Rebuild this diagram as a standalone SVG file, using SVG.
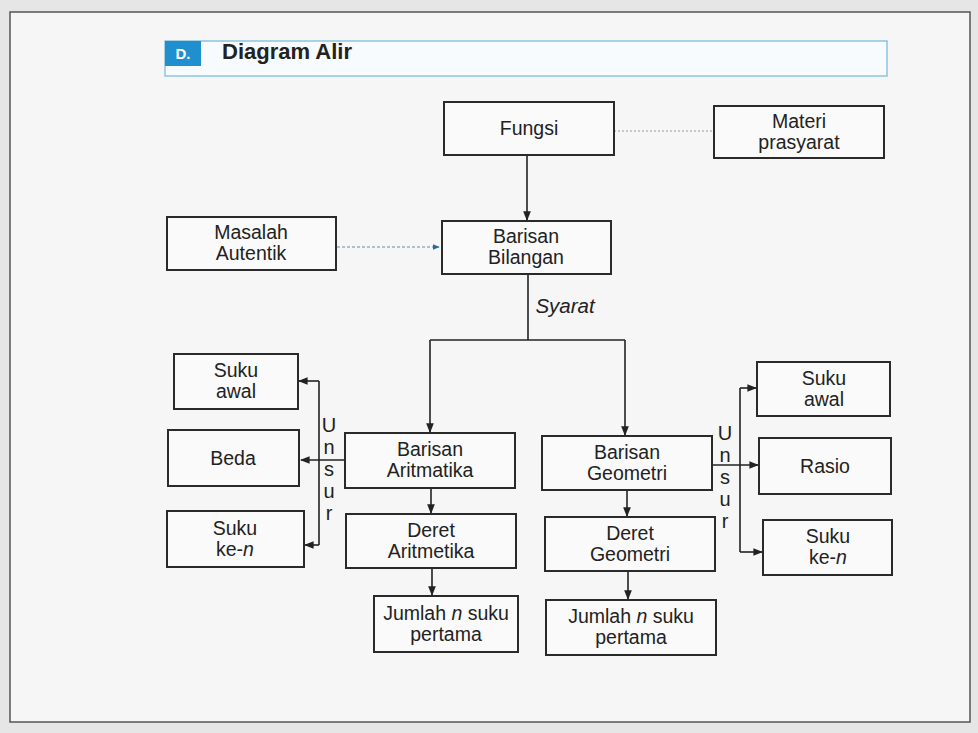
<svg xmlns="http://www.w3.org/2000/svg" width="978" height="733" viewBox="0 0 978 733">
<defs>
<style>
.box{fill:#fafafa;stroke:#2a2a2a;stroke-width:2}
.t{font-family:"Liberation Sans",Arial,sans-serif;font-size:19.5px;fill:#222;text-anchor:middle}
.ln{fill:none;stroke:#222;stroke-width:1.6}
.u{font-family:"Liberation Sans",Arial,sans-serif;font-size:20px;fill:#222;text-anchor:middle}
</style>
<marker id="ah" viewBox="0 0 10 10" refX="9" refY="5" markerWidth="6" markerHeight="6" orient="auto">
<path d="M0,1 L10,5 L0,9 z" fill="#222"/>
</marker>
<marker id="ahb" viewBox="0 0 10 10" refX="9" refY="5" markerWidth="6" markerHeight="6" orient="auto">
<path d="M0,1 L10,5 L0,9 z" fill="#2a6a9a"/>
</marker>
</defs>
<rect x="0" y="0" width="978" height="733" fill="#e6e6e6"/>
<rect x="10" y="12" width="960" height="710" fill="#f6f6f6" stroke="#555" stroke-width="1.5"/>

<g id="header">
<rect x="165" y="41" width="722" height="35" fill="#f8fbfd" stroke="#8fc3e0" stroke-width="1.5"/>
<rect x="165" y="41" width="36" height="25" fill="#1f8fd0"/>
<text x="183" y="59" font-family="Liberation Sans,Arial,sans-serif" font-size="15" font-weight="bold" fill="#fff" text-anchor="middle">D.</text>
<text x="222" y="59" font-family="Liberation Sans,Arial,sans-serif" font-size="22" font-weight="bold" fill="#222">Diagram Alir</text>
</g>

<g id="connectors">
<line x1="614" y1="131" x2="714" y2="131" stroke="#999" stroke-width="1.2" stroke-dasharray="2,2"/>
<line x1="337" y1="247" x2="439" y2="247" stroke="#5a8fb5" stroke-width="1.2" stroke-dasharray="3,2" marker-end="url(#ahb)"/>
<line class="ln" x1="527" y1="155" x2="527" y2="220" marker-end="url(#ah)"/>
<polyline class="ln" points="528,274 528,340"/>
<polyline class="ln" points="430,340 625,340"/>
<line class="ln" x1="430" y1="340" x2="430" y2="432" marker-end="url(#ah)"/>
<line class="ln" x1="625" y1="340" x2="625" y2="435" marker-end="url(#ah)"/>
<line class="ln" x1="431" y1="488" x2="431" y2="513" marker-end="url(#ah)"/>
<line class="ln" x1="627" y1="490" x2="627" y2="516" marker-end="url(#ah)"/>
<line class="ln" x1="432" y1="568" x2="432" y2="595" marker-end="url(#ah)"/>
<line class="ln" x1="628" y1="571" x2="628" y2="599" marker-end="url(#ah)"/>
<line class="ln" x1="345" y1="460" x2="301" y2="460" marker-end="url(#ah)"/>
<polyline class="ln" points="319,381 319,545"/>
<line class="ln" x1="319" y1="381" x2="299" y2="381" marker-end="url(#ah)"/>
<line class="ln" x1="319" y1="545" x2="305" y2="545" marker-end="url(#ah)"/>
<line class="ln" x1="712" y1="465" x2="758" y2="465" marker-end="url(#ah)"/>
<polyline class="ln" points="740,388 740,552"/>
<line class="ln" x1="740" y1="388" x2="756" y2="388" marker-end="url(#ah)"/>
<line class="ln" x1="740" y1="552" x2="762" y2="552" marker-end="url(#ah)"/>
</g>

<g id="label-syarat"><text x="565" y="313" font-family="Liberation Sans,Arial,sans-serif" font-size="20.5" font-style="italic" fill="#222" text-anchor="middle">Syarat</text></g>
<g id="label-unsur-left">
<text class="u" x="329" y="432">U</text><text class="u" x="329" y="454">n</text><text class="u" x="329" y="476">s</text><text class="u" x="329" y="498">u</text><text class="u" x="329" y="520">r</text>
</g>
<g id="label-unsur-right">
<text class="u" x="725" y="440">U</text><text class="u" x="725" y="462">n</text><text class="u" x="725" y="484">s</text><text class="u" x="725" y="506">u</text><text class="u" x="725" y="528">r</text>
</g>

<g id="fungsi"><rect class="box" x="444" y="102" width="170" height="53"/><text class="t" x="529" y="135">Fungsi</text></g>
<g id="materi"><rect class="box" x="714" y="106" width="170" height="52"/><text class="t" x="799" y="128">Materi</text><text class="t" x="799" y="149">prasyarat</text></g>
<g id="masalah"><rect class="box" x="167" y="217" width="169" height="53"/><text class="t" x="251" y="239">Masalah</text><text class="t" x="251" y="260">Autentik</text></g>
<g id="barisan-bilangan"><rect class="box" x="442" y="221" width="169" height="53"/><text class="t" x="526" y="243">Barisan</text><text class="t" x="526" y="264">Bilangan</text></g>
<g id="barisan-aritmatika"><rect class="box" x="345" y="433" width="170" height="55"/><text class="t" x="430" y="456">Barisan</text><text class="t" x="430" y="477">Aritmatika</text></g>
<g id="deret-aritmetika"><rect class="box" x="346" y="514" width="170" height="54"/><text class="t" x="431" y="537">Deret</text><text class="t" x="431" y="558">Aritmetika</text></g>
<g id="jumlah-a"><rect class="box" x="374" y="596" width="144" height="56"/><text class="t" x="446" y="620">Jumlah <tspan font-style="italic">n</tspan> suku</text><text class="t" x="446" y="641">pertama</text></g>
<g id="barisan-geometri"><rect class="box" x="542" y="436" width="170" height="54"/><text class="t" x="627" y="459">Barisan</text><text class="t" x="627" y="480">Geometri</text></g>
<g id="deret-geometri"><rect class="box" x="545" y="517" width="170" height="54"/><text class="t" x="630" y="540">Deret</text><text class="t" x="630" y="561">Geometri</text></g>
<g id="jumlah-g"><rect class="box" x="546" y="600" width="170" height="55"/><text class="t" x="631" y="623">Jumlah <tspan font-style="italic">n</tspan> suku</text><text class="t" x="631" y="644">pertama</text></g>
<g id="suku-awal-l"><rect class="box" x="174" y="354" width="124" height="55"/><text class="t" x="236" y="377">Suku</text><text class="t" x="236" y="398">awal</text></g>
<g id="beda"><rect class="box" x="168" y="430" width="131" height="56"/><text class="t" x="233" y="465">Beda</text></g>
<g id="suku-ken-l"><rect class="box" x="167" y="511" width="137" height="56"/><text class="t" x="235" y="535">Suku</text><text class="t" x="235" y="556">ke-<tspan font-style="italic">n</tspan></text></g>
<g id="suku-awal-r"><rect class="box" x="757" y="362" width="133" height="54"/><text class="t" x="824" y="385">Suku</text><text class="t" x="824" y="406">awal</text></g>
<g id="rasio"><rect class="box" x="759" y="438" width="132" height="56"/><text class="t" x="825" y="473">Rasio</text></g>
<g id="suku-ken-r"><rect class="box" x="763" y="520" width="129" height="55"/><text class="t" x="828" y="543">Suku</text><text class="t" x="828" y="564">ke-<tspan font-style="italic">n</tspan></text></g>
</svg>
